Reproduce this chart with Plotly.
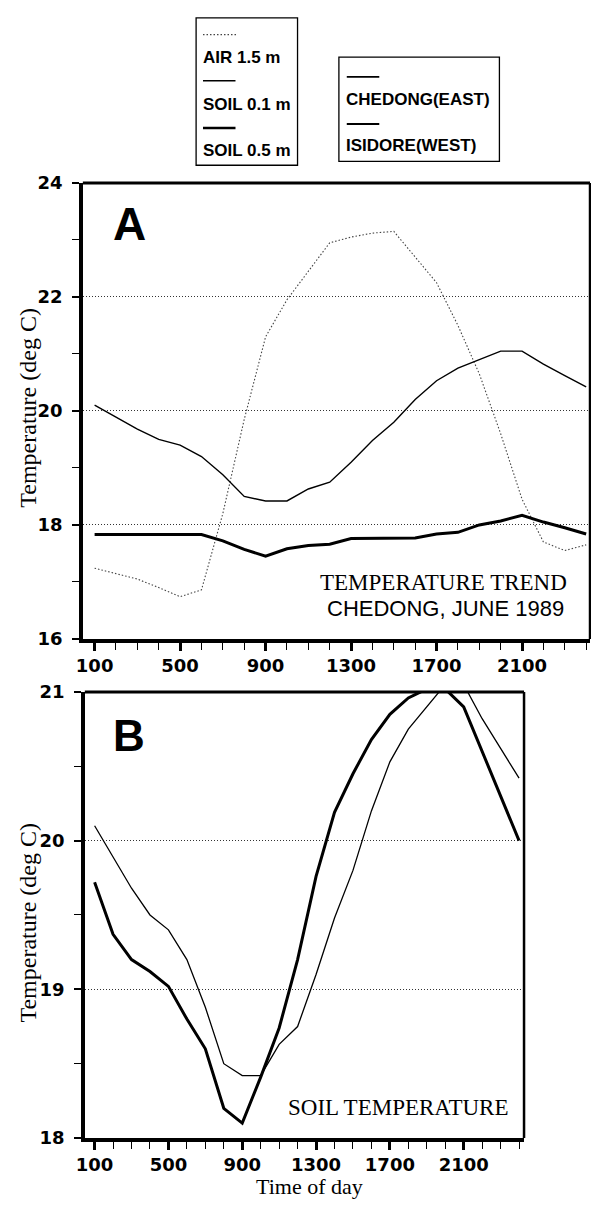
import plotly.graph_objects as go

W, H = 591, 1207

hours = [100, 200, 300, 400, 500, 600, 700, 800, 900, 1000, 1100, 1200,
         1300, 1400, 1500, 1600, 1700, 1800, 1900, 2000, 2100, 2200, 2300, 2400]
tick_hours = [100, 500, 900, 1300, 1700, 2100]

air_1_5m = [17.24, 17.15, 17.05, 16.9, 16.74, 16.86, 18.2, 19.85, 21.3, 21.95, 22.45, 22.95,
            23.05, 23.12, 23.15, 22.7, 22.25, 21.5, 20.65, 19.6, 18.45, 17.7, 17.55, 17.65]
chedong_soil_0_1m = [20.1, 19.89, 19.68, 19.5, 19.4, 19.2, 18.88, 18.5, 18.42, 18.42, 18.63, 18.75,
                     19.1, 19.48, 19.8, 20.2, 20.53, 20.75, 20.9, 21.05, 21.05, 20.82, 20.62, 20.42]
chedong_soil_0_5m = [17.83, 17.83, 17.83, 17.83, 17.83, 17.83, 17.72, 17.57, 17.45, 17.58, 17.64, 17.66,
                     17.76, 17.76, 17.76, 17.77, 17.84, 17.87, 18.0, 18.07, 18.17, 18.05, 17.95, 17.84]
isidore_soil_0_1m = [19.72, 19.37, 19.2, 19.12, 19.02, 18.8, 18.6, 18.2, 18.1, 18.41, 18.74, 19.2,
                     19.76, 20.19, 20.45, 20.68, 20.85, 20.96, 21.02, 21.02, 20.9, 20.6, 20.3, 20.0]


def X(px):
    return px / W


def Y(py):
    return 1 - py / H


AIR_DASH = "1.5px,2px"
GRID_DASH = "1.5px,1.5px"

fig = go.Figure()

# Panel A
fig.add_trace(go.Scatter(x=hours, y=air_1_5m, mode="lines", xaxis="x", yaxis="y",
                         line=dict(color="#444444", width=1.1, dash=AIR_DASH), showlegend=False))
fig.add_trace(go.Scatter(x=hours, y=chedong_soil_0_1m, mode="lines", xaxis="x", yaxis="y",
                         line=dict(color="black", width=1.4), showlegend=False))
fig.add_trace(go.Scatter(x=hours, y=chedong_soil_0_5m, mode="lines", xaxis="x", yaxis="y",
                         line=dict(color="black", width=3), showlegend=False))
# Panel B
fig.add_trace(go.Scatter(x=hours, y=chedong_soil_0_1m, mode="lines", xaxis="x2", yaxis="y2",
                         line=dict(color="black", width=1.3), showlegend=False))
fig.add_trace(go.Scatter(x=hours, y=isidore_soil_0_1m, mode="lines", xaxis="x2", yaxis="y2",
                         line=dict(color="black", width=3), showlegend=False))

tickfont = dict(family="DejaVu Sans", size=18, color="black", weight="bold")

xcommon = dict(tickmode="array", tickvals=tick_hours, ticks="outside", ticklen=8, tickwidth=3,
               tickcolor="black", minor=dict(tick0=100, dtick=100, ticks="outside", ticklen=7,
                                             tickwidth=1.3, tickcolor="black"),
               showline=True, linewidth=3.5, linecolor="black", showgrid=False, zeroline=False,
               tickfont=tickfont)
ycommon = dict(ticks="outside", ticklen=7, tickwidth=2, tickcolor="black",
               showline=True, linewidth=3.5, linecolor="black", showgrid=True,
               gridcolor="#333333", gridwidth=1, griddash=GRID_DASH, zeroline=False,
               tickfont=tickfont, ticklabelstandoff=6)

fig.update_layout(
    width=W, height=H,
    margin=dict(l=0, r=0, t=0, b=0),
    paper_bgcolor="white", plot_bgcolor="white",
    showlegend=False,
    xaxis=dict(domain=[X(75), X(590)], range=[45, 2418], anchor="y", **xcommon),
    yaxis=dict(domain=[Y(639), Y(175)], range=[16, 24], dtick=2, anchor="x",
               minor=dict(dtick=1, ticks="outside", ticklen=7, tickwidth=1.3, tickcolor="black"),
               **ycommon),
    xaxis2=dict(domain=[X(77), X(523)], range=[47, 2427], anchor="y2", **xcommon),
    yaxis2=dict(domain=[Y(1147), Y(693)], range=[18, 21], dtick=1, anchor="x2",
                minor=dict(dtick=0.5, ticks="outside", ticklen=7, tickwidth=1.3, tickcolor="black"),
                **ycommon),
)

shapes = []
# top / right frame lines
for xr, yr in [("x domain", "y domain"), ("x2 domain", "y2 domain")]:
    shapes.append(dict(type="line", xref=xr, yref=yr, x0=0, x1=1, y0=1, y1=1,
                       line=dict(color="black", width=3)))
    shapes.append(dict(type="line", xref=xr, yref=yr, x0=1, x1=1, y0=0, y1=1,
                       line=dict(color="black", width=2.5)))

# legend boxes
shapes.append(dict(type="rect", xref="paper", yref="paper", x0=X(190), x1=X(293), y0=Y(157), y1=Y(7),
                   line=dict(color="black", width=1.3)))
shapes.append(dict(type="rect", xref="paper", yref="paper", x0=X(335), x1=X(498), y0=Y(153), y1=Y(47),
                   line=dict(color="black", width=1.3)))
# legend samples
shapes.append(dict(type="line", xref="paper", yref="paper", x0=X(197), x1=X(232), y0=Y(24), y1=Y(24),
                   line=dict(color="#444444", width=1.1, dash=AIR_DASH)))
shapes.append(dict(type="line", xref="paper", yref="paper", x0=X(197), x1=X(230), y0=Y(71), y1=Y(71),
                   line=dict(color="black", width=1.4)))
shapes.append(dict(type="line", xref="paper", yref="paper", x0=X(197), x1=X(230), y0=Y(119), y1=Y(119),
                   line=dict(color="black", width=2.5)))
shapes.append(dict(type="line", xref="paper", yref="paper", x0=X(343), x1=X(376), y0=Y(67), y1=Y(67),
                   line=dict(color="black", width=1.6)))
shapes.append(dict(type="line", xref="paper", yref="paper", x0=X(343), x1=X(376), y0=Y(115), y1=Y(115),
                   line=dict(color="black", width=2)))
fig.update_layout(shapes=shapes)

ann = []
sans = "Liberation Sans"
serif = "Liberation Serif"


def text(px, py, s, family, size, bold=False, xanchor="center", angle=0):
    ann.append(dict(xref="paper", yref="paper", x=X(px), y=Y(py), text=s, showarrow=False,
                    xanchor=xanchor, yanchor="middle", textangle=angle,
                    font=dict(family=family, size=size, color="black",
                              weight="bold" if bold else "normal")))


# legend texts
text(195, 47, "AIR 1.5 m", sans, 17, True, "left")
text(195, 95, "SOIL 0.1 m", sans, 17, True, "left")
text(195, 142, "SOIL 0.5 m", sans, 17, True, "left")
text(340, 90, "CHEDONG(EAST)", sans, 17, True, "left")
text(340, 137, "ISIDORE(WEST)", sans, 17, True, "left")

# panel letters
text(122, 217, "A", sans, 46, True)
text(122, 737, "B", sans, 44, True)

# in-plot titles
text(441, 582, "TEMPERATURE TREND", serif, 23)
text(443, 608, "CHEDONG, JUNE 1989", sans, 22)
text(395, 1116, "SOIL TEMPERATURE", serif, 23)

# axis titles
text(19, 404, "Temperature (deg C)", serif, 24, angle=-90)
text(19, 928, "Temperature (deg C)", serif, 24, angle=-90)
text(305, 1196, "Time of day", serif, 22)

fig.update_layout(annotations=ann)

fig.write_html("out.html")
